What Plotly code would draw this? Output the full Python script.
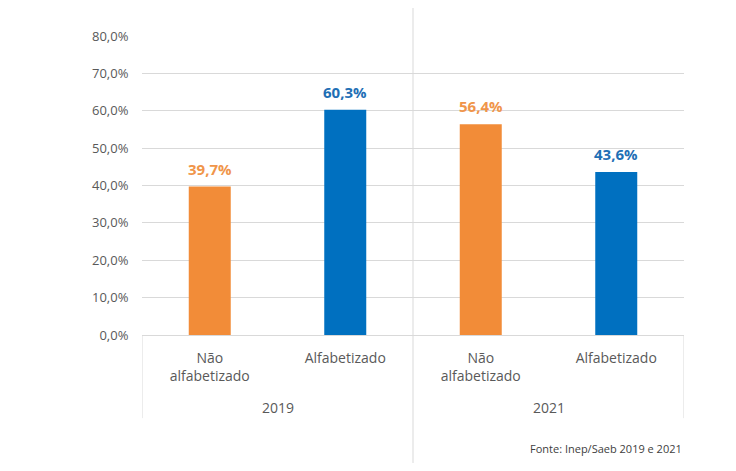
import plotly.graph_objects as go

years = ["2019", "2021"]
groups = ["Não<br>alfabetizado", "Alfabetizado", "Não<br>alfabetizado", "Alfabetizado"]
values = [39.7, 60.3, 56.4, 43.6]
colors = ["#F28C38", "#0070C0", "#F28C38", "#0070C0"]
label_colors = ["#F0954A", "#1F6FB5", "#F0954A", "#1F6FB5"]
y_ticks = [0, 10, 20, 30, 40, 50, 60, 70, 80]
source = "Fonte: Inep/Saeb 2019 e 2021"

grid = "#D9D9D9"
font_fam = "Open Sans, Liberation Sans, sans-serif"

positions = list(range(len(values)))
per_year = len(groups) // len(years)

fig = go.Figure()
fig.add_trace(go.Bar(
    x=positions,
    y=values,
    marker=dict(color=colors, line=dict(width=0)),
    width=0.31,
    hoverinfo="skip",
))

# data labels
for p, v, c in zip(positions, values, label_colors):
    fig.add_annotation(x=p, y=v, xref="x", yref="y", showarrow=False,
                       text=f"{v:.1f}%".replace(".", ","),
                       yanchor="bottom", yshift=6,
                       font=dict(family=font_fam, size=15, color=c, weight="bold"))

# year labels
for i, yr in enumerate(years):
    fig.add_annotation(x=i * per_year + (per_year - 1) / 2, y=-0.244, xref="x", yref="paper",
                       showarrow=False, text=yr, yanchor="middle",
                       font=dict(family=font_fam, size=14, color="#595959"))

# category box lines
for i in range(len(years) + 1):
    xb = i * per_year - 0.5
    if 0 < i < len(years):
        y0, y1 = -0.428, 1.15
    else:
        y0, y1 = -0.278, 0
    fig.add_shape(type="line", xref="x", yref="paper", x0=xb, x1=xb, y0=y0, y1=y1,
                  line=dict(color=grid, width=1))

fig.add_annotation(text=source, xref="paper", yref="paper", x=1.0, y=-0.381,
                   xanchor="right", yanchor="middle", showarrow=False,
                   font=dict(family=font_fam, size=11, color="#404040"))

fig.update_layout(
    width=728, height=463,
    margin=dict(l=134, r=52, t=28, b=136),
    paper_bgcolor="white", plot_bgcolor="white",
    separators=",.",
    showlegend=False,
    font=dict(family=font_fam, size=13, color="#595959"),
)
fig.update_xaxes(
    range=[-0.5, len(values) - 0.5],
    tickvals=positions, ticktext=groups,
    showline=True, linecolor=grid, linewidth=1,
    ticks="outside", ticklen=10, tickcolor="rgba(0,0,0,0)",
    tickfont=dict(size=14, color="#595959"),
    showgrid=False, zeroline=False,
)
fig.update_yaxes(
    range=[0, 80], tickvals=y_ticks,
    ticktext=[f"{t:.1f}%".replace(".", ",") for t in y_ticks],
    showgrid=True, gridcolor=grid, gridwidth=1,
    zeroline=False, showline=False,
    ticks="outside", ticklen=10, tickcolor="rgba(0,0,0,0)",
    tickfont=dict(size=13, color="#595959"),
)

fig.write_html("out.html")
